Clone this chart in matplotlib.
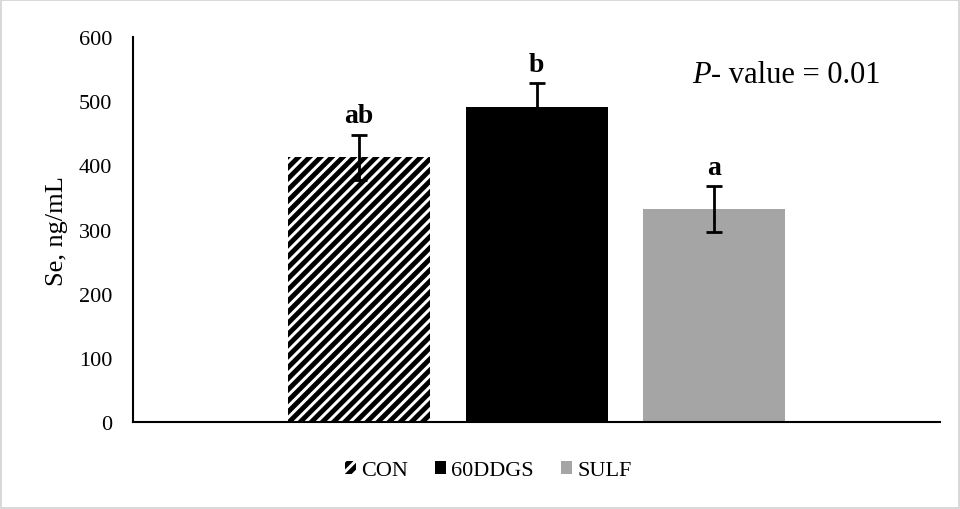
import numpy as np
import matplotlib.pyplot as plt

plt.rcParams['font.family'] = ['Liberation Serif', 'DejaVu Serif']
plt.rcParams['hatch.linewidth'] = 3.5

### data
groups = ['CON', '60DDGS', 'SULF']
se_mean = [413, 491, 332]
se_err = [35, 37, 36]
letters = ['ab', 'b', 'a']
colors = ['white', 'black', '#a5a5a5']
hatches = ['///', None, None]

fig = plt.figure(figsize=(9.6, 5.1), dpi=100)
fig.patch.set_edgecolor('#d9d9d9')
fig.patch.set_linewidth(1.5)
ax = fig.add_axes([0.1385, 0.1706, 0.841, 0.7544])

width = 0.176
offsets = (np.arange(len(groups)) - 1) * 0.22
for i, g in enumerate(groups):
    x = 0.5 + offsets[i]
    ax.bar(x, se_mean[i], width, color=colors[i], hatch=hatches[i],
           edgecolor='black' if hatches[i] else colors[i], linewidth=0,
           label=g)
    ax.errorbar(x, se_mean[i], yerr=se_err[i], color='black', capsize=6,
                elinewidth=2, capthick=2)
    ax.text(x, se_mean[i] + se_err[i] + 10, letters[i], ha='center',
            va='bottom', fontsize=20, fontweight='bold')

# p-value note
ax.text(0.693, 542, 'P', fontsize=22, fontstyle='italic', ha='left', va='center')
ax.text(0.716, 542, '- value = 0.01', fontsize=22, ha='left', va='center')

ax.set_xlim(0, 1)
ax.set_ylim(0, 600)
ax.set_yticks(range(0, 601, 100))
ax.set_xticks([])
ax.tick_params(axis='y', length=0, labelsize=16, pad=15)
ax.set_ylabel('Se, ng/mL', fontsize=19, labelpad=8)
for s in ['top', 'right']:
    ax.spines[s].set_visible(False)
ax.spines['left'].set_linewidth(1.5)
ax.spines['bottom'].set_linewidth(1.5)

ax.legend(loc='upper center', bbox_to_anchor=(0.44, -0.05), ncol=3,
          frameon=False, fontsize=16, handlelength=0.5, handleheight=0.5,
          handletextpad=0.25, columnspacing=1.2)

fig.savefig('out.png', dpi=100)
